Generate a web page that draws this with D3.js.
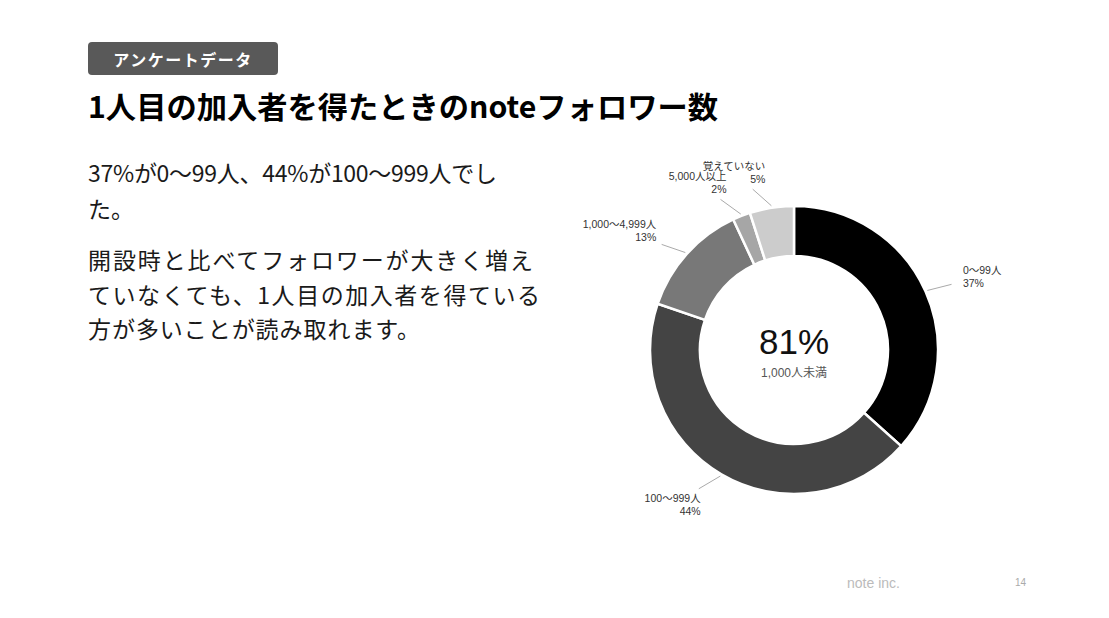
<!DOCTYPE html>
<html>
<head>
<meta charset="utf-8">
<script src="https://cdn.jsdelivr.net/npm/d3@7"></script>
<style>
  body { margin: 0; background: #fff; }
  svg { display: block; font-family: "Noto Sans CJK JP", "Noto Sans", sans-serif; }
</style>
</head>
<body>
<svg id="chart" width="1109" height="618"></svg>
<script>
// survey answers, clockwise from 12 o'clock
const categories = ["0〜99人", "100〜999人", "1,000〜4,999人", "5,000人以上", "覚えていない"];
const shares = [37, 44, 13, 2, 5];
const centerValue = "81%";
const centerCaption = "1,000人未満";

const bodyLines = [
    "37%が0〜99人、44%が100〜999人でし",
    "た。",
    "開設時と比べてフォロワーが大きく増え",
    "ていなくても、1人目の加入者を得ている",
    "方が多いことが読み取れます。"
];

const svg = d3.select("#chart");

// tag + title
svg.append("rect")
    .attr("x", 88).attr("y", 42)
    .attr("width", 190).attr("height", 33)
    .attr("rx", 4)
    .attr("fill", "#595959");
svg.append("text")
    .attr("x", 183).attr("y", 59)
    .attr("text-anchor", "middle")
    .attr("dominant-baseline", "central")
    .attr("fill", "#fff")
    .attr("font-size", 16).attr("font-weight", "bold")
    .attr("letter-spacing", 1.5)
    .text("アンケートデータ");

svg.append("text")
    .attr("x", 88).attr("y", 105)
    .attr("dominant-baseline", "central")
    .attr("fill", "#000")
    .attr("font-size", 30).attr("font-weight", "bold")
    .attr("textLength", 630).attr("lengthAdjust", "spacingAndGlyphs")
    .text("1人目の加入者を得たときのnoteフォロワー数");

// body copy (line widths taken from the slide so wrapping matches)
const lineY = [172, 208, 259, 294, 328];
const lineW = [409, null, 445, 452, 332];
svg.selectAll("text.body")
    .data(bodyLines)
    .enter().append("text")
    .attr("class", "body")
    .attr("x", 88)
    .attr("y", (d, i) => lineY[i])
    .attr("dominant-baseline", "central")
    .attr("fill", "#1a1a1a")
    .attr("font-size", 23)
    .attr("textLength", (d, i) => lineW[i])
    .attr("lengthAdjust", "spacing")
    .text(d => d);

// donut
const cx = 794, cy = 350;
const rOuter = 144, rInner = 94;

const color = d3.scaleOrdinal()
    .domain(categories)
    .range(["#000000", "#444444", "#787878", "#a6a6a6", "#cccccc"]);

const pie = d3.pie().sort(null).value(d => d.value);
const arcs = pie(categories.map((c, i) => ({ name: c, value: shares[i] })));

const arc = d3.arc().innerRadius(rInner).outerRadius(rOuter);
const g = svg.append("g").attr("transform", `translate(${cx},${cy})`);

g.selectAll("path")
    .data(arcs)
    .enter().append("path")
    .attr("d", arc)
    .attr("fill", d => color(d.data.name))
    .attr("stroke", "#fff")
    .attr("stroke-width", 2.5);

const mid = d => (d.startAngle + d.endAngle) / 2;
const pt = (a, r) => [Math.sin(a) * r, -Math.cos(a) * r];

// slice labels
const labels = g.selectAll("text.slice")
    .data(arcs)
    .enter().append("text")
    .attr("class", "slice")
    .attr("font-family", "'Liberation Sans', 'Noto Sans CJK JP', sans-serif")
    .attr("font-size", 10.5)
    .attr("fill", "#333")
    .attr("text-anchor", d => mid(d) < Math.PI ? "start" : "end")
    .attr("transform", d => {
        const p = pt(mid(d), rOuter + 41);
        return `translate(${p[0]},${p[1] - 3 + 6 * Math.cos(mid(d))})`;
    });
labels.append("tspan").attr("x", 0).attr("dy", 0).text(d => d.data.name);
labels.append("tspan").attr("x", 0).attr("dy", 13).text(d => d.data.value + "%");

// leader lines: from the slice edge towards the middle of its label block
labels.each(function (d) {
    const b = this.getBBox();
    const p = pt(mid(d), rOuter + 41);
    const ty = p[1] - 3 + 6 * Math.cos(mid(d));
    const bx = p[0] + b.x + b.width / 2;
    const by = ty + b.y + b.height / 2;
    const s = pt(mid(d), rOuter + 2);
    const dx = bx - s[0], dy = by - s[1];
    const len = Math.hypot(dx, dy);
    g.append("line")
        .attr("x1", s[0]).attr("y1", s[1])
        .attr("x2", s[0] + dx / len * 25)
        .attr("y2", s[1] + dy / len * 25)
        .attr("stroke", "#aaa")
        .attr("stroke-width", 1);
});

// center
g.append("text")
    .attr("y", -9)
    .attr("text-anchor", "middle")
    .attr("dominant-baseline", "central")
    .attr("font-family", "'Liberation Sans', Arial, sans-serif")
    .attr("font-size", 35)
    .attr("fill", "#111")
    .text(centerValue);
g.append("text")
    .attr("y", 23)
    .attr("text-anchor", "middle")
    .attr("dominant-baseline", "central")
    .attr("font-family", "'Liberation Sans', 'Noto Sans CJK JP', sans-serif")
    .attr("font-size", 12)
    .attr("fill", "#555")
    .text(centerCaption);

// footer
svg.append("text")
    .attr("x", 847).attr("y", 583)
    .attr("dominant-baseline", "central")
    .attr("font-family", "'Liberation Sans', Arial, sans-serif")
    .attr("font-size", 14)
    .attr("fill", "#bbb")
    .text("note inc.");
svg.append("text")
    .attr("x", 1015).attr("y", 582)
    .attr("dominant-baseline", "central")
    .attr("font-family", "'Liberation Sans', Arial, sans-serif")
    .attr("font-size", 10)
    .attr("fill", "#aaa")
    .text("14");
</script>
</body>
</html>
